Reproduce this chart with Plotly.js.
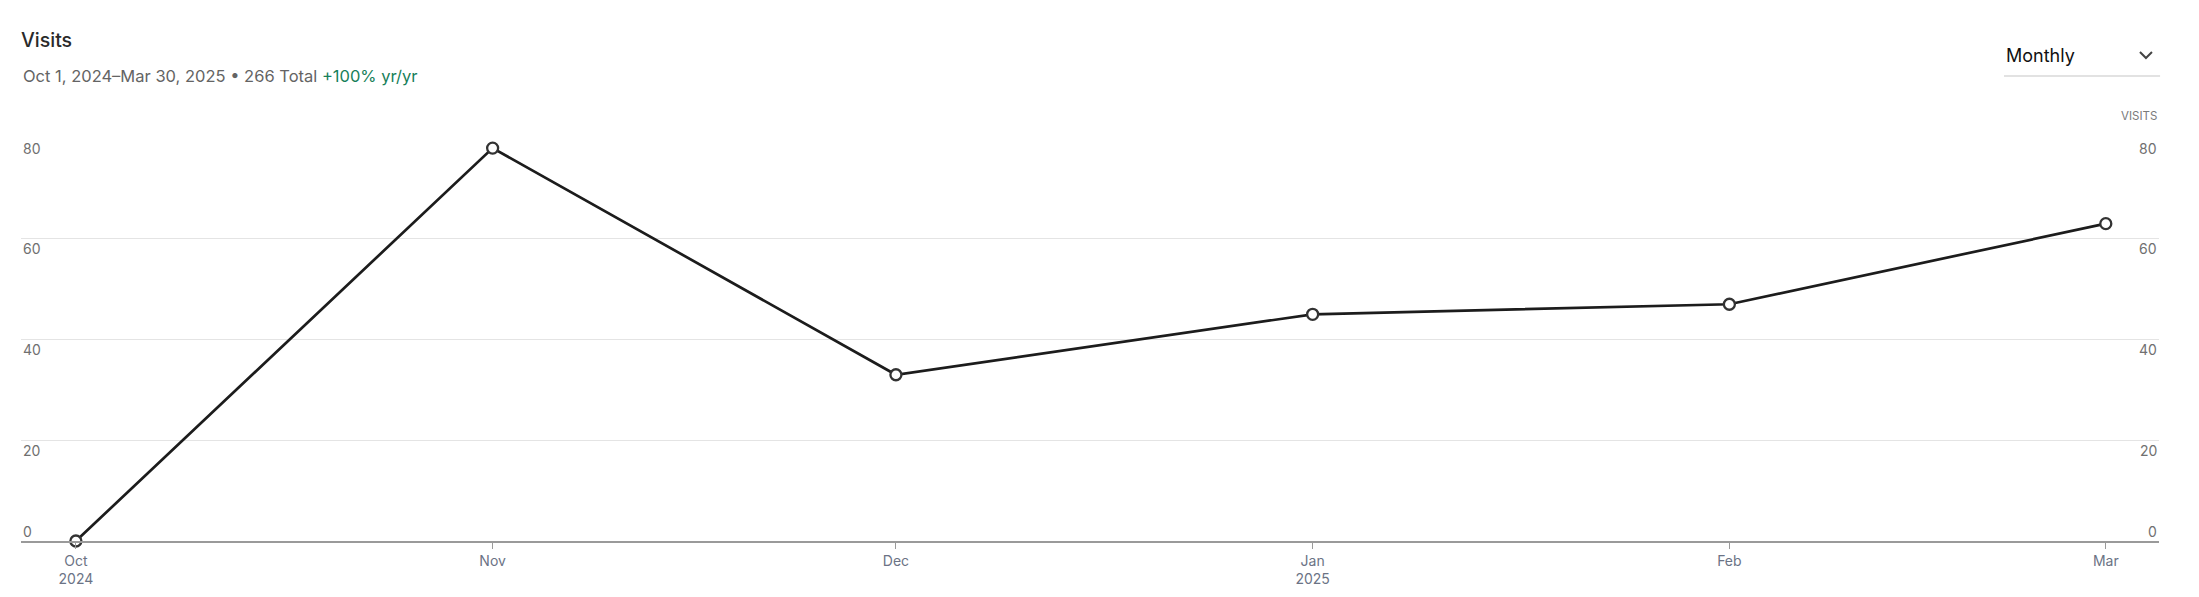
<!DOCTYPE html>
<html>
<head>
<meta charset="utf-8">
<script src="https://cdn.plot.ly/plotly-3.0.1.min.js"></script>
<style>
  html, body { margin: 0; padding: 0; background: #fff; }
  #chart { width: 2199px; height: 597px; }
</style>
</head>
<body>
<div id="chart"></div>
<script>
// ---- data ----
const months = ['2024-10-01', '2024-11-01', '2024-12-01', '2025-01-01', '2025-02-01', '2025-03-01'];
const visits = [0, 78, 33, 45, 47, 63];
const monthLabels = ['Oct<br>2024', 'Nov', 'Dec', 'Jan<br>2025', 'Feb', 'Mar'];
const yTicks = [0, 20, 40, 60, 80];
const titleText = 'Visits';
const subtitleText = 'Oct 1, 2024\u2013Mar 30, 2025 \u2022 266 Total';
const changeText = '+100% yr/yr';
const periodText = 'Monthly';
const axisCaption = 'VISITS';

const FONT = 'Inter, "Noto Sans", Roboto, sans-serif';
const TICK_COLOR = '#6b7385';

const trace = {
  type: 'scatter',
  mode: 'lines+markers',
  x: months,
  y: visits,
  line: { color: '#1c1c1c', width: 2.7 },
  marker: { size: 11, color: '#ffffff', line: { color: '#333333', width: 2.3 } },
  hoverinfo: 'x+y',
  cliponaxis: false
};

const annotations = [];
// subtitle
annotations.push({
  xref: 'paper', yref: 'paper', x: 0, y: 1.1538, xanchor: 'left', yanchor: 'middle',
  text: subtitleText + ' <span style="color:#17805a">' + changeText + '</span>',
  showarrow: false, font: { family: FONT, size: 16.5, color: '#646464' }
});
// period selector
annotations.push({
  xref: 'paper', yref: 'paper', x: 0.9275, y: 1.2035, xanchor: 'left', yanchor: 'middle',
  text: periodText, showarrow: false, font: { family: FONT, size: 18, color: '#111111' }
});
// axis caption
annotations.push({
  xref: 'paper', yref: 'paper', x: 1, y: 1.0546, xanchor: 'right', yanchor: 'middle',
  text: axisCaption, showarrow: false, font: { family: FONT, size: 11.5, color: '#7a7a7a' }
});
// y tick labels on both sides
yTicks.forEach(v => {
  const shift = v === 0 ? 10 : -10;
  annotations.push({
    xref: 'paper', yref: 'y', x: 0, y: v, xanchor: 'left', yanchor: 'middle', yshift: shift,
    text: String(v), showarrow: false, font: { family: FONT, size: 14, color: '#707070' }
  });
  annotations.push({
    xref: 'paper', yref: 'y', x: 1, y: v, xanchor: 'right', yanchor: 'middle', yshift: shift,
    text: String(v), showarrow: false, font: { family: FONT, size: 14, color: '#707070' }
  });
});

const shapes = [
  // dropdown underline
  { type: 'line', xref: 'paper', yref: 'paper', x0: 0.9275, x1: 1.0005, y0: 1.1538, y1: 1.1538,
    line: { color: '#e2e2e2', width: 2 } },
  // chevron
  { type: 'path', xref: 'paper', yref: 'paper', xsizemode: 'pixel', ysizemode: 'pixel',
    xanchor: 0.9939, yanchor: 1.2060,
    path: 'M -6 3 L 0 -3 L 6 3', line: { color: '#444444', width: 2 } }
];

const layout = {
  width: 2199, height: 597,
  margin: { l: 21, r: 40, t: 138, b: 56, pad: 0 },
  paper_bgcolor: '#ffffff', plot_bgcolor: '#ffffff',
  showlegend: false,
  title: {
    text: titleText, xref: 'container', yref: 'container',
    x: 21 / 2199, xanchor: 'left', y: 1 - 40 / 597, yanchor: 'middle',
    font: { family: FONT, size: 19.5, color: '#2a2a2a', weight: 500 }
  },
  font: { family: FONT },
  xaxis: {
    type: 'date',
    range: ['2024-09-26 22:00', '2025-03-04 23:00'],
    tickvals: months, ticktext: monthLabels,
    showgrid: false, zeroline: false,
    showline: true, linecolor: '#9a9a9a', linewidth: 1.5,
    ticks: 'outside', ticklen: 6, tickcolor: '#9a9a9a', tickwidth: 1,
    tickfont: { family: FONT, size: 14, color: TICK_COLOR },
    fixedrange: true
  },
  yaxis: {
    range: [0, 80], tickvals: yTicks, showticklabels: false,
    showgrid: true, gridcolor: '#e4e4e4', gridwidth: 1,
    zeroline: false, showline: false, ticks: '',
    fixedrange: true
  },
  annotations: annotations,
  shapes: shapes
};

Plotly.newPlot('chart', [trace], layout, { displayModeBar: false, staticPlot: false });
</script>
</body>
</html>
